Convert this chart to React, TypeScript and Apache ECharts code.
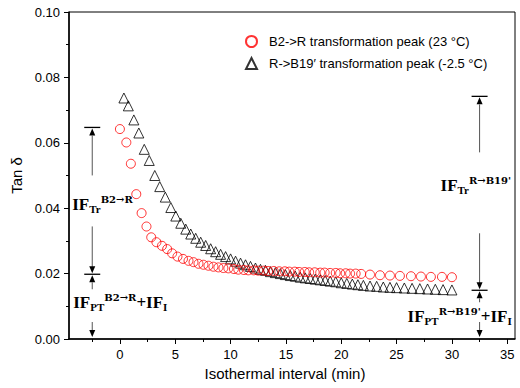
import React, { useEffect, useRef } from "react";
import * as echarts from "echarts";

// ---- data ----
const circleX = [0.0, 0.58, 0.99, 1.48, 1.96, 2.4, 2.83, 3.3, 3.8, 4.27, 4.72, 5.2, 5.7, 6.2, 6.65, 7.1, 7.55, 8.0, 8.45, 8.9, 9.35, 9.8, 10.3, 10.7, 11.2, 11.6, 12.1, 12.5, 13.0, 13.4, 13.9, 14.4, 14.9, 15.3, 15.8, 16.2, 16.7, 17.1, 17.6, 18.1, 18.5, 19.0, 19.5, 19.9, 20.4, 20.8, 21.3, 21.8, 22.6, 23.5, 24.4, 25.3, 26.3, 27.2, 28.1, 29.1, 30.0];
const circleY = [0.0642, 0.0601, 0.0536, 0.0443, 0.0385, 0.0344, 0.0311, 0.0296, 0.0285, 0.0275, 0.0262, 0.0252, 0.0245, 0.0239, 0.0235, 0.0230, 0.0227, 0.0224, 0.0221, 0.0219, 0.0217, 0.0216, 0.0214, 0.0212, 0.0211, 0.0210, 0.0210, 0.0209, 0.0209, 0.0208, 0.0208, 0.0207, 0.0207, 0.0206, 0.0206, 0.0205, 0.0205, 0.0204, 0.0204, 0.0203, 0.0203, 0.0202, 0.0202, 0.0201, 0.0201, 0.0200, 0.0200, 0.0199, 0.0197, 0.0195, 0.0194, 0.0193, 0.0192, 0.0191, 0.0190, 0.0190, 0.0189];

const triangleX = [0.36, 0.76, 1.26, 1.71, 2.2, 2.65, 3.15, 3.6, 4.1, 4.6, 5.05, 5.5, 5.95, 6.4, 6.85, 7.3, 7.75, 8.2, 8.65, 9.1, 9.55, 10.0, 10.45, 10.9, 11.35, 11.8, 12.25, 12.7, 13.15, 13.6, 14.05, 14.5, 14.95, 15.4, 15.85, 16.3, 16.75, 17.2, 17.65, 18.1, 18.55, 19.0, 19.5, 20.0, 20.5, 21.0, 21.5, 22.0, 22.6, 23.2, 23.8, 24.4, 25.0, 25.7, 26.4, 27.1, 27.8, 28.5, 29.2, 30.0];
const triangleY = [0.0737, 0.0713, 0.0670, 0.0630, 0.0580, 0.0546, 0.0500, 0.0466, 0.0434, 0.0402, 0.0376, 0.0354, 0.0336, 0.0321, 0.0308, 0.0296, 0.0286, 0.0276, 0.0267, 0.0259, 0.0252, 0.0245, 0.0238, 0.0232, 0.0227, 0.0222, 0.0217, 0.0213, 0.0210, 0.0206, 0.0203, 0.0200, 0.0197, 0.0194, 0.0192, 0.0189, 0.0187, 0.0185, 0.0183, 0.0181, 0.0179, 0.0177, 0.0175, 0.0172, 0.0170, 0.0168, 0.0166, 0.0164, 0.0162, 0.0161, 0.0159, 0.0158, 0.0157, 0.0156, 0.0155, 0.0154, 0.0153, 0.0152, 0.0151, 0.0150];

const seriesNames = ["B2->R transformation peak (23 °C)", "R->B19′ transformation peak (-2.5 °C)"];
const xMajorTicks = [0, 5, 10, 15, 20, 25, 30, 35];
const xMinorTicks = [-2.5, 2.5, 7.5, 12.5, 17.5, 22.5, 27.5, 32.5];

// annotation anchors (data units)
const leftMarker = { x: -2.5, top: 0.0647, mid: 0.0198 };
const rightMarker = { x: 32.5, top: 0.0742, mid: 0.0149 };

const SANS = "Liberation Sans, Arial, Helvetica, sans-serif";
const SERIF = "Liberation Serif, Times New Roman, serif";
const SUPF = "DejaVu Serif, Liberation Serif, serif";

const rich = {
  m: { fontSize: 17, fontWeight: "bold", fontFamily: SERIF, lineHeight: 20, verticalAlign: "middle", fill: "#000" },
  sub: { fontSize: 11, fontWeight: "bold", fontFamily: SERIF, lineHeight: 10, verticalAlign: "bottom", fill: "#000" },
  sup: { fontSize: 10, fontWeight: "bold", fontFamily: SUPF, lineHeight: 10, verticalAlign: "top", fill: "#000" },
};

function arrowUp(x: number, tip: number) {
  return { type: "polygon", z: 100, shape: { points: [[x, tip], [x - 3, tip + 7], [x + 3, tip + 7]] }, style: { fill: "#000" } };
}
function arrowDown(x: number, tip: number) {
  return { type: "polygon", z: 100, shape: { points: [[x, tip], [x - 3, tip - 7], [x + 3, tip - 7]] }, style: { fill: "#000" } };
}
function vline(x: number, y1: number, y2: number) {
  return { type: "line", z: 100, shape: { x1: x, y1, x2: x, y2 }, style: { stroke: "#555", lineWidth: 1 } };
}
function cap(x: number, y: number) {
  return { type: "line", z: 100, shape: { x1: x - 8, y1: y, x2: x + 8, y2: y }, style: { stroke: "#000", lineWidth: 1.3 } };
}
function label(x: number, y: number, text: string) {
  return { type: "text", z: 100, x, y, style: { text, rich, align: "left", verticalAlign: "middle" } };
}

export default function App() {
  const ref = useRef<HTMLDivElement>(null);
  useEffect(() => {
    if (!ref.current) return;
    const chart = echarts.init(ref.current, null, { renderer: "svg" });
    const circles = circleX.map((x, i) => [x, circleY[i]]);
    const triangles = triangleX.map((x, i) => [x, triangleY[i]]);
    chart.setOption({
      animation: false,
      backgroundColor: "#fff",
      grid: { left: 69, right: 5, top: 12, bottom: 49, show: true, borderColor: "#000", borderWidth: 1, outerBoundsMode: "none" },
      legend: {
        orient: "vertical",
        left: 240,
        top: 30,
        itemGap: 9,
        itemWidth: 11,
        itemHeight: 11,
        textStyle: { fontSize: 13, fontFamily: SANS, color: "#000", padding: [0, 0, 0, 7] },
        data: seriesNames,
      },
      xAxis: [
        {
          type: "value",
          min: -4.6,
          max: 35.7,
          position: "bottom",
          name: "Isothermal interval (min)",
          nameLocation: "middle",
          nameGap: 22,
          nameTextStyle: { fontSize: 15, fontFamily: SANS, color: "#000", padding: [0, 14, 0, 0] },
          axisLine: { show: true, onZero: false, lineStyle: { color: "#000", width: 1.5 } },
          axisTick: { show: true, length: 5, customValues: xMajorTicks, lineStyle: { color: "#000" } },
          axisLabel: { show: true, customValues: xMajorTicks, fontSize: 13, fontFamily: SANS, color: "#000", margin: 9 },
          splitLine: { show: false },
        },
        {
          type: "value",
          min: -4.6,
          max: 35.7,
          position: "bottom",
          axisLine: { show: false, onZero: false },
          axisTick: { show: true, length: 3, customValues: xMinorTicks, lineStyle: { color: "#000" } },
          axisLabel: { show: false },
          splitLine: { show: false },
        },
      ],
      yAxis: {
        type: "value",
        min: 0,
        max: 0.1,
        interval: 0.02,
        position: "left",
        name: "Tan δ",
        nameLocation: "middle",
        nameGap: 31,
        nameTextStyle: { fontSize: 15, fontFamily: SANS, color: "#000" },
        axisLine: { show: true, onZero: false, lineStyle: { color: "#000", width: 1.5 } },
        axisTick: { show: true, length: 5, lineStyle: { color: "#000" } },
        minorTick: { show: true, splitNumber: 2, length: 3, lineStyle: { color: "#000" } },
        axisLabel: { fontSize: 13, fontFamily: SANS, color: "#000", margin: 9, formatter: (v: number) => v.toFixed(2) },
        splitLine: { show: false },
      },
      series: [
        {
          name: seriesNames[0],
          type: "scatter",
          symbol: "circle",
          symbolSize: 9,
          itemStyle: { color: "rgba(0,0,0,0)", borderColor: "#ff0000", borderWidth: 1 },
          data: circles,
          z: 3,
        },
        {
          name: seriesNames[1],
          type: "scatter",
          symbol: "triangle",
          symbolSize: 10,
          itemStyle: { color: "rgba(0,0,0,0)", borderColor: "#000", borderWidth: 1 },
          data: triangles,
          z: 2,
        },
      ],
    });

    const px = (x: number, y: number) => chart.convertToPixel({ seriesIndex: 0 }, [x, y]) as number[];
    const g: any[] = [];
    {
      const [X, yTop] = px(leftMarker.x, leftMarker.top);
      const yMid = px(leftMarker.x, leftMarker.mid)[1];
      const yBot = px(leftMarker.x, 0)[1];
      g.push(cap(X, yTop), arrowUp(X, yTop + 1), vline(X, yTop + 8, yTop + 48));
      g.push(label(X - 20, yTop + 77, "{m|IF}{sub|Tr}{sup|B2→R}"));
      g.push(vline(X, yTop + 99, yMid - 7), arrowDown(X, yMid - 1), cap(X, yMid), arrowUp(X, yMid + 1), vline(X, yMid + 8, yMid + 15));
      g.push(label(X - 19, yMid + 28, "{m|IF}{sub|PT}{sup|B2→R}{m|+IF}{sub|I}"));
      g.push(vline(X, yBot - 17, yBot - 8), arrowDown(X, yBot - 2));
    }
    {
      const [X, yTop] = px(rightMarker.x, rightMarker.top);
      const yMid = px(rightMarker.x, rightMarker.mid)[1];
      const yBot = px(rightMarker.x, 0)[1];
      g.push(cap(X, yTop), arrowUp(X, yTop + 1), vline(X, yTop + 8, yTop + 56));
      g.push(label(X - 39, yTop + 89, "{m|IF}{sub|Tr}{sup|R→B19'}"));
      g.push(vline(X, yMid - 57, yMid - 7), arrowDown(X, yMid - 1), cap(X, yMid), arrowUp(X, yMid + 1), vline(X, yMid + 8, yMid + 12));
      g.push(label(X - 72, yMid + 26, "{m|IF}{sub|PT}{sup|R→B19'}{m|+IF}{sub|I}"));
      g.push(vline(X, yBot - 17, yBot - 8), arrowDown(X, yBot - 2));
    }
    chart.setOption({ graphic: g });

    return () => chart.dispose();
  }, []);
  return <div ref={ref} style={{ position: "fixed", left: 0, top: 0, width: 520, height: 388 }} />;
}
